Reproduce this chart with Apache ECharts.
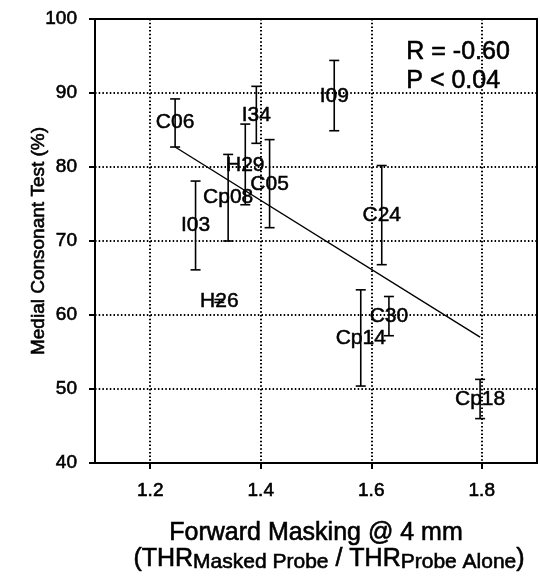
<!DOCTYPE html>
<html>
<head>
<meta charset="utf-8">
<script src="https://cdn.jsdelivr.net/npm/echarts@6/dist/echarts.min.js"></script>
<style>
html,body{margin:0;padding:0;background:#fff;}
#main{width:540px;height:578px;}
</style>
</head>
<body>
<div id="main"></div>
<script>
// ---- data ----
const categories = ['C06','I34','I09','H29','Cp08','C05','I03','C24','H26','Cp14','C30','Cp18'];
const xValues    = [1.245,1.392,1.533,1.372,1.341,1.416,1.282,1.619,1.325,1.581,1.632,1.797];
const meanValues = [86.0, 87.0, 89.6, 80.3, 75.9, 77.7, 72.1, 73.5, 61.9, 56.9, 59.8, 48.6];
const lowValues  = [82.7, 83.2, 84.9, 74.9, 70.0, 71.8, 66.1, 66.8, 61.7, 50.4, 57.2, 46.0];
const highValues = [89.2, 90.9, 94.4, 85.8, 81.7, 83.7, 78.1, 80.2, 62.1, 63.4, 62.5, 51.3];
const fitX = [1.245, 1.797];
const fitY = [82.7, 57.0];
const xTickValues = [1.2, 1.4, 1.6, 1.8];
const statsText = ['R = -0.60', 'P < 0.04'];

const FONT = '"Liberation Sans", Arial, Helvetica, sans-serif';
const heavy = { textBorderColor: '#000', textBorderWidth: 0.6 };

const errData = categories.map((c, i) => [xValues[i], lowValues[i], highValues[i], meanValues[i], c]);
const fitData = fitX.map((x, i) => [x, fitY[i]]);

const chart = echarts.init(document.getElementById('main'), null, { renderer: 'canvas' });

const dotted = { color: '#000', width: 2, type: [1.5, 2.2] };

chart.setOption({
  animation: false,
  backgroundColor: '#fff',
  grid: {
    left: 95, top: 19, right: 3, bottom: 115,
    show: true, borderColor: '#000', borderWidth: 2, backgroundColor: 'transparent',
    containLabel: false, outerBoundsMode: 'none'
  },
  xAxis: {
    type: 'value', min: 1.1, max: 1.9,
    axisLine: { show: true, onZero: false, lineStyle: { color: '#000', width: 2 } },
    axisTick: { show: true, inside: false, length: 6, customValues: xTickValues, lineStyle: { color: '#000', width: 2 } },
    axisLabel: Object.assign({ customValues: xTickValues, margin: 18, color: '#000', fontSize: 19, fontFamily: FONT,
      formatter: v => v.toFixed(1) }, heavy),
    splitLine: { show: true, customValues: xTickValues, lineStyle: dotted },
    name: '{t|Forward Masking @ 4 mm}\n{p|(THR}{s|Masked Probe}{m| / THR}{s|Probe Alone}{m|)}',
    nameLocation: 'middle', nameGap: 56, nameMoveOverlap: false,
    nameTextStyle: {
      color: '#000', fontFamily: FONT, align: 'center',
      rich: {
        t: Object.assign({ fontSize: 25, fontFamily: FONT, color: '#000', lineHeight: 28 }, heavy),
        p: Object.assign({ fontSize: 25, fontFamily: FONT, color: '#000', lineHeight: 26, verticalAlign: 'top', padding: [0, 0, 0, 26] }, heavy),
        m: Object.assign({ fontSize: 25, fontFamily: FONT, color: '#000', lineHeight: 26, verticalAlign: 'top' }, heavy),
        s: Object.assign({ fontSize: 21, fontFamily: FONT, color: '#000', lineHeight: 21, verticalAlign: 'bottom' }, heavy)
      }
    }
  },
  yAxis: {
    type: 'value', min: 40, max: 100, interval: 10,
    axisLine: { show: true, onZero: false, lineStyle: { color: '#000', width: 2 } },
    axisTick: { show: true, inside: false, length: 6, lineStyle: { color: '#000', width: 2 } },
    axisLabel: Object.assign({ margin: 18, color: '#000', fontSize: 19, fontFamily: FONT }, heavy),
    splitLine: { show: true, lineStyle: dotted },
    name: 'Medial Consonant Test (%)',
    nameLocation: 'middle', nameGap: 47, nameRotate: 90, nameMoveOverlap: false,
    nameTextStyle: Object.assign({ color: '#000', fontSize: 19, fontFamily: FONT }, heavy)
  },
  graphic: statsText.map((t, i) => ({
    type: 'text', left: 406, top: 39 + i * 29, z: 100,
    style: { text: t, fontSize: 25, fontFamily: FONT, fill: '#000', stroke: '#000', lineWidth: 0.6 }
  })),
  series: [
    {
      type: 'line', data: fitData, symbol: 'none', z: 3,
      lineStyle: { color: '#000', width: 1.4 }
    },
    {
      type: 'custom', z: 4,
      renderItem: function (params, api) {
        const x = api.value(0);
        const lo = api.coord([x, api.value(1)]);
        const hi = api.coord([x, api.value(2)]);
        const mid = api.coord([x, api.value(3)]);
        const hw = 5;
        const st = { stroke: '#000', lineWidth: 1.6 };
        return {
          type: 'group',
          children: [
            { type: 'line', shape: { x1: lo[0], y1: lo[1], x2: hi[0], y2: hi[1] }, style: st },
            { type: 'line', shape: { x1: lo[0] - hw, y1: lo[1], x2: lo[0] + hw, y2: lo[1] }, style: st },
            { type: 'line', shape: { x1: hi[0] - hw, y1: hi[1], x2: hi[0] + hw, y2: hi[1] }, style: st },
            { type: 'text', x: mid[0], y: mid[1],
              style: { text: String(api.value(4)), fill: '#000', stroke: '#000', lineWidth: 0.5,
                       fontSize: 21, fontFamily: FONT, align: 'center', verticalAlign: 'middle' } }
          ]
        };
      },
      encode: { x: 0, y: [1, 2] },
      dimensions: ['x', 'low', 'high', 'mean', { name: 'name', type: 'ordinal' }],
      data: errData
    }
  ]
});
</script>
</body>
</html>
